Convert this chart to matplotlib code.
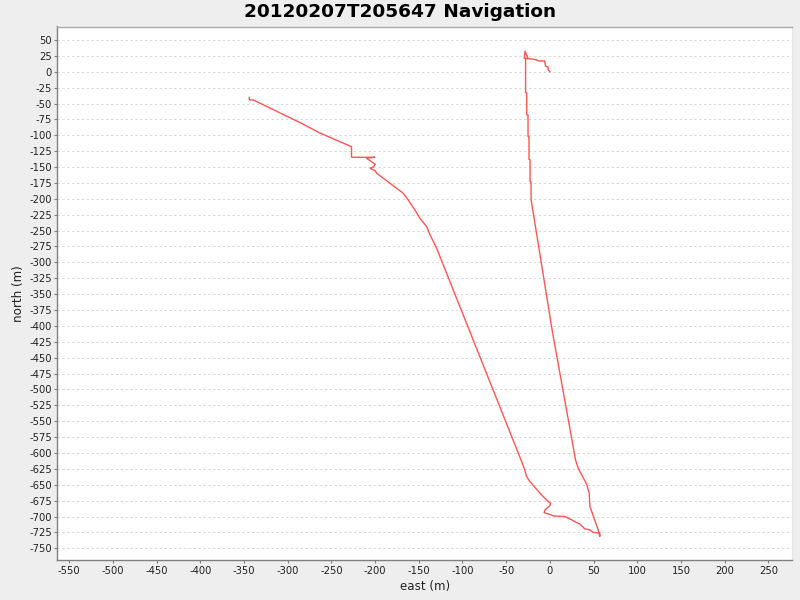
import matplotlib
matplotlib.use("Agg")
import matplotlib.pyplot as plt
import numpy as np

# Track (east, north) in metres, in travel order
east = [0, -2, -2, -5, -6, -13, -15, -20, -29.4, -28.3, -26.7, -25.5, -25.5, -27.8,
        -27.8, -26.5, -26.5, -25, -25, -23.9, -23.9, -22.7, -22.7, -21.6, -21.4,
        3, 29.4, 32.4, 42, 45, 45.8, 55.3, 57.2, 57.2, 49.6, 45.8, 40, 34.3, 30.5,
        24.8, 21, 17.2, 3.8, 1.9, -6.5, -5.7, 0, 0.8, -3.8, -9.5, -15.2, -22.9,
        -26.7, -28.6, -33, -129.6, -137, -141, -148.7, -154.5, -162, -168, -183,
        -198, -200, -206, -202, -200, -210, -200, -227, -227, -263, -286, -339.5,
        -344, -344]
north = [0, 3, 7, 9, 17, 17, 18.6, 20, 21.2, 32.7, 26.4, 24, 21, 21,
         -33, -33, -68, -68, -102, -102, -138, -138, -173, -173, -202,
         -410, -611, -624, -649, -663, -684, -721, -731.6, -726, -725, -721, -719.5,
         -711.7, -709.6, -705, -702.7, -700, -699, -697.5, -694, -689.6, -683, -679,
         -674, -666, -657, -645, -637, -627, -611, -277.8, -257, -243.8, -230.6,
         -217.5, -202, -191, -175.5, -160, -155.6, -152, -150, -145.6, -136, -134.6,
         -134.6, -118, -96.5, -80, -44.4, -44.4, -40.5]

title = "20120207T205647 Navigation"
xlabel = "east (m)"
ylabel = "north (m)"
xticks = list(range(-550, 251, 50))
yticks = list(range(-750, 51, 25))

fig = plt.figure(figsize=(8, 6), dpi=100, facecolor="#EEEEEE")
ax = fig.add_axes([57.5 / 800, 1 - 560 / 600, (792 - 57.5) / 800, (560 - 26.5) / 600])
ax.set_facecolor("white")

ax.plot(east, north, color="#FF5555", lw=1.0, solid_joinstyle="miter")

ax.set_xlim(-563.5, 277.1)
ax.set_ylim(-768.4, 71.2)
ax.set_xticks(xticks)
ax.set_yticks(yticks)
ax.set_xticklabels([str(v) for v in xticks])
ax.set_yticklabels([str(v) for v in yticks])
ax.tick_params(axis="both", labelsize=7.2, length=2, width=0.8, color="#808080",
               pad=2, labelcolor="#222222")

ax.yaxis.grid(True, color="#D8D8D8", linestyle=(0, (2.5, 2.5)), linewidth=0.7)
ax.xaxis.grid(False)
ax.set_axisbelow(True)

for s in ["left", "bottom"]:
    ax.spines[s].set_color("#808080")
    ax.spines[s].set_linewidth(1.0)
ax.spines["top"].set_color("#AAAAAA")
ax.spines["top"].set_linewidth(1.0)
ax.spines["right"].set_color("#E4E4E4")
ax.spines["right"].set_linewidth(0.8)

ax.set_xlabel(xlabel, fontsize=8.6, color="#222222", labelpad=3)
ax.set_ylabel(ylabel, fontsize=8.6, color="#222222", labelpad=3)
fig.text(0.5, 1 - 12 / 600, title, ha="center", va="center", fontsize=13.3,
         fontweight="bold", color="black")

fig.savefig("out.png", dpi=100, facecolor=fig.get_facecolor())
